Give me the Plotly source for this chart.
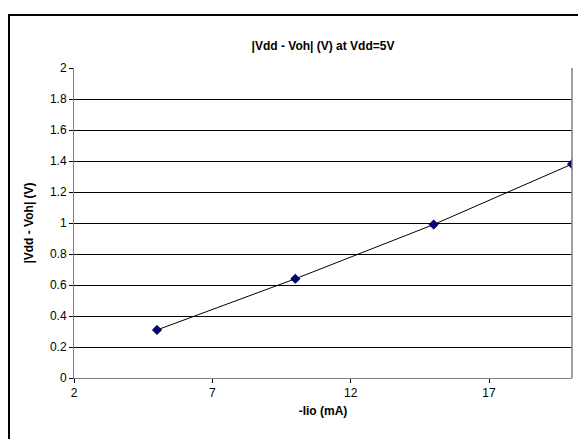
import plotly.graph_objects as go

x_vals = [5, 10, 15, 20]
y_vals = [0.31, 0.64, 0.99, 1.38]
x_ticks = [2, 7, 12, 17]
y_ticks = [0, 0.2, 0.4, 0.6, 0.8, 1, 1.2, 1.4, 1.6, 1.8, 2]

FONT = "Liberation Sans, Arial, sans-serif"

# page body has an 8px margin, so the figure is offset by (8, 8)
W, H = 578, 431
L, R, T, B = 66, 14, 60, 61
PW, PH = W - L - R, H - T - B

fig = go.Figure()
fig.add_trace(go.Scatter(
    x=x_vals, y=y_vals, mode="lines+markers",
    line=dict(color="black", width=1),
    marker=dict(symbol="diamond", size=7, color="#000080", line=dict(color="#000040", width=1)),
    showlegend=False,
))

fig.update_layout(
    width=W, height=H,
    margin=dict(l=L, r=R, t=T, b=B),
    paper_bgcolor="white", plot_bgcolor="white",
    font=dict(family=FONT, size=12, color="black"),
    title=dict(text="<b>|Vdd - Voh| (V) at Vdd=5V</b>", x=(L + PW / 2) / W, xanchor="center",
               y=1 - 38 / H, yanchor="middle", font=dict(size=12, family=FONT)),
    xaxis=dict(range=[2, 20], tickvals=x_ticks, ticktext=[str(v) for v in x_ticks],
               showgrid=False, zeroline=False, showline=True, linecolor="#808080", linewidth=1,
               ticks="outside", ticklen=4, tickcolor="black",
               title=dict(text="<b>-Iio (mA)</b>", standoff=7, font=dict(size=12, family=FONT))),
    yaxis=dict(range=[0, 2], tickvals=y_ticks, ticktext=[("%g" % v) for v in y_ticks],
               showgrid=True, gridcolor="black", gridwidth=1, zeroline=False,
               showline=True, linecolor="#808080", linewidth=1,
               ticks="outside", ticklen=4, tickcolor="black",
               title=dict(text="<b>|Vdd - Voh| (V)</b>", standoff=13, font=dict(size=12, family=FONT))),
)

# right plot-area border (grey)
fig.add_shape(type="line", xref="paper", yref="paper", x0=1, x1=1, y0=0, y1=1,
              line=dict(color="#808080", width=1.5))
# outer chart frame (extends beyond the image on right/bottom)
fig.add_shape(type="rect", xref="paper", yref="paper",
              x0=(1 - L) / PW, x1=1.2, y0=-0.3, y1=(PH + T - 7) / PH,
              line=dict(color="black", width=2), layer="below")

fig.write_html("out.html")
